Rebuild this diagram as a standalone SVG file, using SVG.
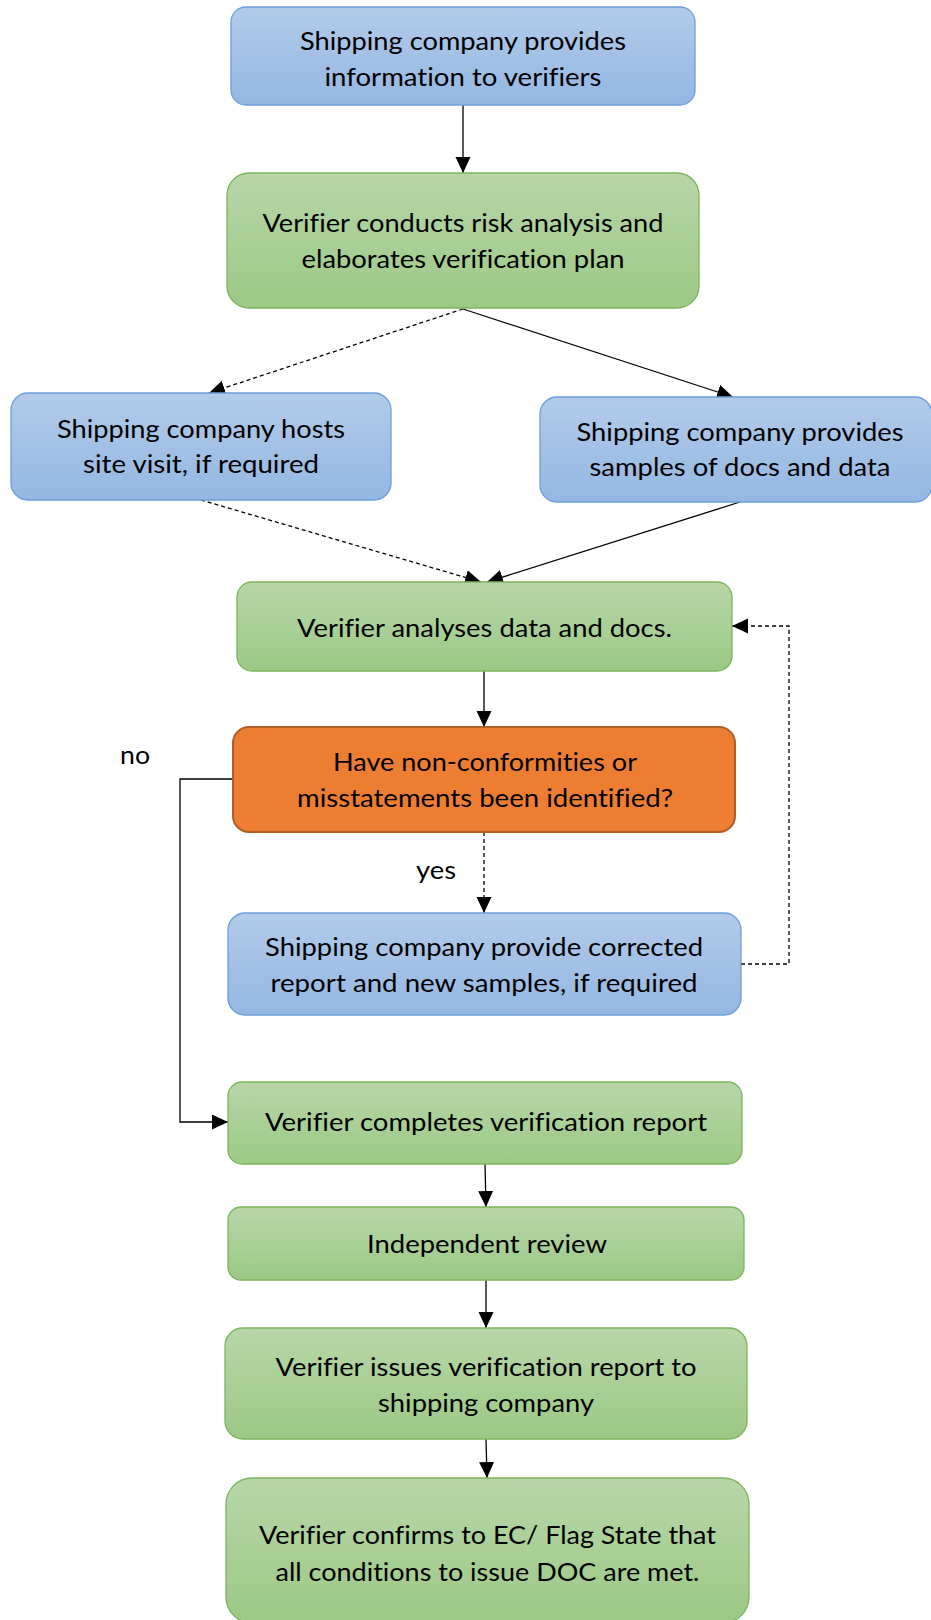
<svg xmlns="http://www.w3.org/2000/svg" width="931" height="1620" viewBox="0 0 931 1620">
<defs>
<linearGradient id="gBlue" x1="0" y1="0" x2="0" y2="1">
<stop offset="0" stop-color="#b2cbe9"/>
<stop offset="1" stop-color="#94b7e2"/>
</linearGradient>
<linearGradient id="gGreen" x1="0" y1="0" x2="0" y2="1">
<stop offset="0" stop-color="#b7d6a9"/>
<stop offset="1" stop-color="#9cc985"/>
</linearGradient>
<marker id="arr" markerUnits="userSpaceOnUse" markerWidth="17" markerHeight="16" refX="16" refY="7.5" orient="auto">
<path d="M0,0 L16,7.5 L0,15 z" fill="#000"/>
</marker>
<style>
.blue{fill:url(#gBlue);stroke:#6d9eda;stroke-width:1.3}
.green{fill:url(#gGreen);stroke:#7ab55c;stroke-width:1.3}
.orange{fill:#ed7d31;stroke:#b05e25;stroke-width:2}
text{font-family:Lato,"Open Sans","Liberation Sans",sans-serif;font-size:25.5px;fill:#000;text-anchor:middle;font-variant-ligatures:none}
.ln{fill:none;stroke:#000;stroke-width:1.3;marker-end:url(#arr)}
.dash{stroke-dasharray:4 3}
</style>
</defs>
<g id="connectors">
<path class="ln" d="M463,105 L463,173"/>
<path class="ln dash" d="M463,309 L209,393"/>
<path class="ln" d="M463,309 L733,397"/>
<path class="ln dash" d="M201,500 L481,582"/>
<path class="ln" d="M740,502 L487,582"/>
<path class="ln" d="M484,671 L484,727"/>
<path class="ln dash" d="M484,832 L484,913"/>
<path class="ln dash" d="M741,964 L789,964 L789,626 L732,626"/>
<path class="ln" d="M233,779 L180,779 L180,1122 L228,1122"/>
<path class="ln" d="M485,1164 L486,1207"/>
<path class="ln" d="M486,1280 L486,1328"/>
<path class="ln" d="M486,1439 L487,1478"/>
</g>
<g id="n1">
<rect class="blue" x="231" y="7" width="464" height="98" rx="15"/>
<text x="463" y="50" textLength="326" lengthAdjust="spacingAndGlyphs">Shipping company provides</text>
<text x="463" y="86" textLength="277" lengthAdjust="spacingAndGlyphs">information to verifiers</text>
</g>
<g id="n2">
<rect class="green" x="227" y="173" width="472" height="135" rx="22"/>
<text x="463" y="232" textLength="401" lengthAdjust="spacingAndGlyphs">Verifier conducts risk analysis and</text>
<text x="463" y="268" textLength="323" lengthAdjust="spacingAndGlyphs">elaborates verification plan</text>
</g>
<g id="n3">
<rect class="blue" x="11" y="393" width="380" height="107" rx="17"/>
<text x="201" y="438" textLength="288" lengthAdjust="spacingAndGlyphs">Shipping company hosts</text>
<text x="201" y="473" textLength="236" lengthAdjust="spacingAndGlyphs">site visit, if required</text>
</g>
<g id="n4">
<rect class="blue" x="540" y="397" width="392" height="105" rx="17"/>
<text x="740" y="441" textLength="327" lengthAdjust="spacingAndGlyphs">Shipping company provides</text>
<text x="740" y="476" textLength="301" lengthAdjust="spacingAndGlyphs">samples of docs and data</text>
</g>
<g id="n5">
<rect class="green" x="237" y="582" width="495" height="89" rx="15"/>
<text x="484.5" y="637" textLength="375" lengthAdjust="spacingAndGlyphs">Verifier analyses data and docs.</text>
</g>
<g id="n6">
<rect class="orange" x="233" y="727" width="502" height="105" rx="16"/>
<text x="485" y="771" textLength="304" lengthAdjust="spacingAndGlyphs">Have non-conformities or</text>
<text x="485" y="807" textLength="376" lengthAdjust="spacingAndGlyphs">misstatements been identified?</text>
</g>
<g id="lbl-no">
<text x="135" y="764" textLength="30" lengthAdjust="spacingAndGlyphs">no</text>
</g>
<g id="lbl-yes">
<text x="436" y="879" textLength="40" lengthAdjust="spacingAndGlyphs">yes</text>
</g>
<g id="n7">
<rect class="blue" x="228" y="913" width="513" height="102" rx="17"/>
<text x="484" y="956" textLength="438" lengthAdjust="spacingAndGlyphs">Shipping company provide corrected</text>
<text x="484" y="992" textLength="427" lengthAdjust="spacingAndGlyphs">report and new samples, if required</text>
</g>
<g id="n8">
<rect class="green" x="228" y="1082" width="514" height="82" rx="14"/>
<text x="486" y="1131" textLength="442" lengthAdjust="spacingAndGlyphs">Verifier completes verification report</text>
</g>
<g id="n9">
<rect class="green" x="228" y="1207" width="516" height="73" rx="13"/>
<text x="487" y="1253" textLength="240" lengthAdjust="spacingAndGlyphs">Independent review</text>
</g>
<g id="n10">
<rect class="green" x="225" y="1328" width="522" height="111" rx="18"/>
<text x="486" y="1376" textLength="421" lengthAdjust="spacingAndGlyphs">Verifier issues verification report to</text>
<text x="486" y="1412" textLength="216" lengthAdjust="spacingAndGlyphs">shipping company</text>
</g>
<g id="n11">
<rect class="green" x="226" y="1478" width="523" height="145" rx="26"/>
<text x="487.5" y="1544" textLength="457" lengthAdjust="spacingAndGlyphs">Verifier confirms to EC/ Flag State that</text>
<text x="487.5" y="1581" textLength="424" lengthAdjust="spacingAndGlyphs">all conditions to issue DOC are met.</text>
</g>
</svg>
